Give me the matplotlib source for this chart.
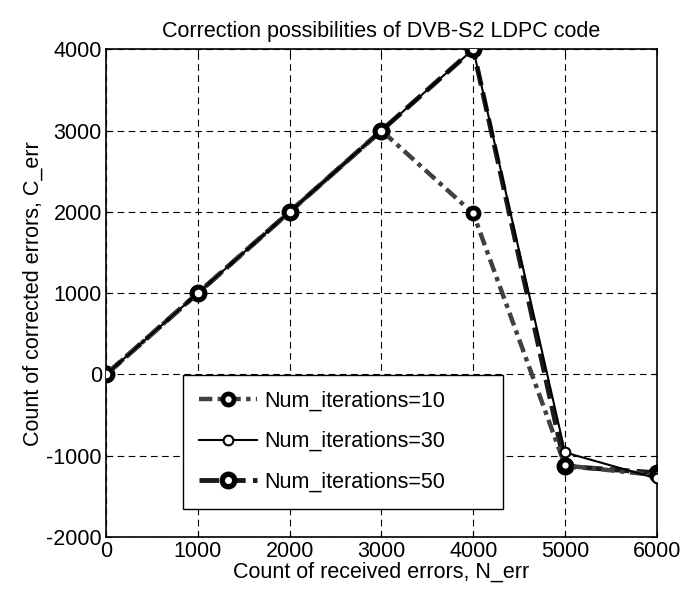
import matplotlib
matplotlib.use("Agg")
import matplotlib.pyplot as plt

x_vals = [0, 1000, 2000, 3000, 4000, 5000, 6000]
iter10 = [0, 1000, 2000, 3000, 1980, -1120, -1240]
iter30 = [0, 1000, 2000, 3000, 4000, -960, -1280]
iter50 = [0, 1000, 2000, 3000, 4000, -1130, -1210]
x_ticks = [0, 1000, 2000, 3000, 4000, 5000, 6000]
y_ticks = [-2000, -1000, 0, 1000, 2000, 3000, 4000]

plt.rcParams['font.family'] = ['Liberation Sans', 'DejaVu Sans']
plt.rcParams['axes.unicode_minus'] = False

fig = plt.figure(figsize=(6.98, 5.97), dpi=100)
ax = fig.add_axes([0.152, 0.1005, 0.789, 0.817])

ax.plot(x_vals, iter10, color='#404040', lw=3.2, linestyle=(0, (3, 1.2, 1, 1.2)),
        marker='o', ms=8, mfc='white', mec='black', mew=3.4, label='Num_iterations=10', zorder=3)
ax.plot(x_vals, iter30, color='black', lw=1.5, linestyle='-',
        marker='o', ms=7, mfc='white', mec='black', mew=1.5, label='Num_iterations=30', zorder=4)
ax.plot(x_vals, iter50, color='#1a1a1a', lw=3.5, linestyle=(0, (4, 1.5)),
        marker='o', ms=9, mfc='white', mec='black', mew=3.9, label='Num_iterations=50', zorder=2)

ax.set_xlim(0, 6000)
ax.set_ylim(-2000, 4000)
ax.set_xticks(x_ticks)
ax.set_yticks(y_ticks)
ax.tick_params(direction='in', labelsize=15.5, length=4, top=True, right=True, pad=3)
ax.grid(True, color='black', linestyle=(0, (6, 4)), lw=0.8)
for s in ax.spines.values():
    s.set_linewidth(1.2)

ax.set_title('Correction possibilities of DVB-S2 LDPC code', fontsize=15.5, pad=9)
ax.set_xlabel('Count of received errors, N_err', fontsize=15.5, labelpad=0)
ax.set_ylabel('Count of corrected errors, C_err', fontsize=15.5, labelpad=2)

leg = ax.legend(loc='upper left', bbox_to_anchor=(0.14, 0.333, 0.58, 0.0), mode='expand',
                fontsize=15.5, frameon=True, fancybox=False, borderaxespad=0,
                handlelength=2.7, labelspacing=0.9, borderpad=0.75, handletextpad=0.33)
leg.get_frame().set_edgecolor('black')
leg.get_frame().set_linewidth(1.0)
leg.get_frame().set_alpha(1)

fig.savefig('out.png', dpi=100)
